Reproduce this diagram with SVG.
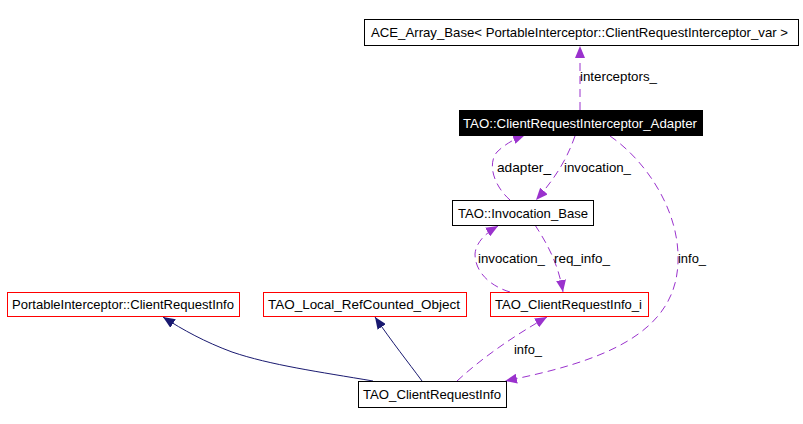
<svg xmlns="http://www.w3.org/2000/svg" width="803" height="424" viewBox="0 0 803 424">
<defs>
<style>
.box{fill:#fff;stroke:#000;stroke-width:1}
.red{fill:#fff;stroke:#ff0000;stroke-width:1}
.dark{fill:#000;stroke:#000;stroke-width:1}
text{font-family:"Liberation Sans",Arial,sans-serif;font-size:13px;fill:#000}
.wt{fill:#fff}
.use{fill:none;stroke:#9a32cd;stroke-width:1;stroke-dasharray:8,5}
.inh{fill:none;stroke:#191970;stroke-width:1}
</style>
<marker id="ap" markerUnits="userSpaceOnUse" markerWidth="12" markerHeight="10" refX="12" refY="5" orient="auto">
<path d="M0,0 L12,5 L0,10 z" fill="#9a32cd"/>
</marker>
<marker id="an" markerUnits="userSpaceOnUse" markerWidth="12" markerHeight="10" refX="12" refY="5" orient="auto">
<path d="M0,0 L12,5 L0,10 z" fill="#191970"/>
</marker>
</defs>
<rect width="803" height="424" fill="#fff"/>

<g id="edges">
<path class="use" d="M580,110 L580,46" marker-end="url(#ap)"/>
<text x="580" y="81" textLength="77" lengthAdjust="spacingAndGlyphs">interceptors_</text>
<path class="use" d="M510,200 C494,186 487,164 497,152 C504,145 514,139 525,135" marker-end="url(#ap)"/>
<text x="497" y="172" textLength="54" lengthAdjust="spacingAndGlyphs">adapter_</text>
<path class="use" d="M575,136 C568,156 558,175 536,200" marker-end="url(#ap)"/>
<text x="564" y="172" textLength="67" lengthAdjust="spacingAndGlyphs">invocation_</text>
<path class="use" d="M610,136 C645,160 680,210 678,262 C676,335 600,362 505,381" marker-end="url(#ap)"/>
<text x="678" y="263" textLength="28" lengthAdjust="spacingAndGlyphs">info_</text>
<path class="use" d="M510,292 C490,286 475,272 475,254 C476,242 486,233 498,226" marker-end="url(#ap)"/>
<text x="478" y="263" textLength="67" lengthAdjust="spacingAndGlyphs">invocation_</text>
<path class="use" d="M535,225 C546,242 558,262 563,292" marker-end="url(#ap)"/>
<text x="554" y="263" textLength="56" lengthAdjust="spacingAndGlyphs">req_info_</text>
<path class="use" d="M457,381 C482,358 512,337 547,317" marker-end="url(#ap)"/>
<text x="514" y="354" textLength="28" lengthAdjust="spacingAndGlyphs">info_</text>
<path class="inh" d="M373,381 C320,372 270,365 232,352 C205,342 183,330 163,317" marker-end="url(#an)"/>
<path class="inh" d="M422,381 C408,362 392,342 375,317" marker-end="url(#an)"/>
</g>

<g id="ace_array_base">
<rect class="box" x="364.5" y="19.5" width="434" height="26"/>
<text x="371" y="37" textLength="417" lengthAdjust="spacingAndGlyphs">ACE_Array_Base&lt; PortableInterceptor::ClientRequestInterceptor_var &gt;</text>
</g>
<g id="adapter">
<rect class="dark" x="459.5" y="110.5" width="243" height="25"/>
<text class="wt" x="463" y="128" textLength="234" lengthAdjust="spacingAndGlyphs">TAO::ClientRequestInterceptor_Adapter</text>
</g>
<g id="invocation_base">
<rect class="box" x="452.5" y="200.5" width="141" height="25"/>
<text x="458" y="218" textLength="130" lengthAdjust="spacingAndGlyphs">TAO::Invocation_Base</text>
</g>
<g id="portable_cri">
<rect class="red" x="7.5" y="292.5" width="232" height="24"/>
<text x="12" y="309" textLength="222" lengthAdjust="spacingAndGlyphs">PortableInterceptor::ClientRequestInfo</text>
</g>
<g id="local_refcounted">
<rect class="red" x="263.5" y="292.5" width="203" height="24"/>
<text x="268" y="309" textLength="192" lengthAdjust="spacingAndGlyphs">TAO_Local_RefCounted_Object</text>
</g>
<g id="cri_i">
<rect class="red" x="490.5" y="292.5" width="158" height="24"/>
<text x="495" y="309" textLength="147" lengthAdjust="spacingAndGlyphs">TAO_ClientRequestInfo_i</text>
</g>
<g id="cri">
<rect class="box" x="358.5" y="381.5" width="148" height="26"/>
<text x="363" y="399" textLength="138" lengthAdjust="spacingAndGlyphs">TAO_ClientRequestInfo</text>
</g>
</svg>
